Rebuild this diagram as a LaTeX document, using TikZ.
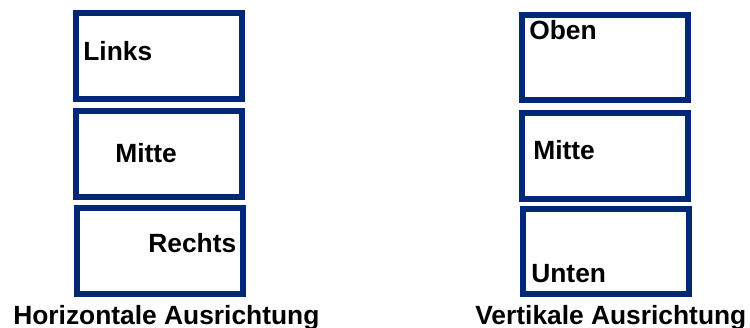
\documentclass[tikz,border=0pt]{standalone}
\usepackage{fontspec}
\setmainfont{Liberation Sans}
\usepackage{tikz}
\definecolor{framenavy}{RGB}{0,40,118}
\tikzset{
  framebox/.style={draw=framenavy,line width=3.2pt},
  boxlabel/.style={anchor=base west,inner sep=0pt,font=\bfseries\fontsize{15}{18}\selectfont}
}

\begin{document}
\begin{tikzpicture}
  \useasboundingbox (0,0) rectangle (15.0000,-6.560);
  % horizontal alignment
  \draw[framebox] (1.5140,-0.258) rectangle (4.8460,-1.982);
  \draw[framebox] (1.5140,-2.218) rectangle (4.8460,-3.942);
  \draw[framebox] (1.5340,-4.158) rectangle (4.8660,-5.882);
  \node[boxlabel] (links) at (1.6600,-1.220) {Links};
  \node[boxlabel] (mitteh) at (2.3000,-3.260) {Mitte};
  \node[boxlabel] (rechts) at (2.9600,-5.060) {Rechts};
  \node[boxlabel] (horiz) at (0.2600,-6.500) {Horizontale Ausrichtung};
  % vertical alignment
  \draw[framebox] (10.4340,-0.298) rectangle (13.7660,-2.002);
  \draw[framebox] (10.4340,-2.258) rectangle (13.7660,-3.982);
  \draw[framebox] (10.4540,-4.178) rectangle (13.7860,-5.882);
  \node[boxlabel] (oben) at (10.5800,-0.800) {Oben};
  \node[boxlabel] (mittev) at (10.6600,-3.200) {Mitte};
  \node[boxlabel] (unten) at (10.6200,-5.660) {Unten};
  \node[boxlabel] (vert) at (9.5000,-6.500) {Vertikale Ausrichtung};
\end{tikzpicture}
\end{document}
